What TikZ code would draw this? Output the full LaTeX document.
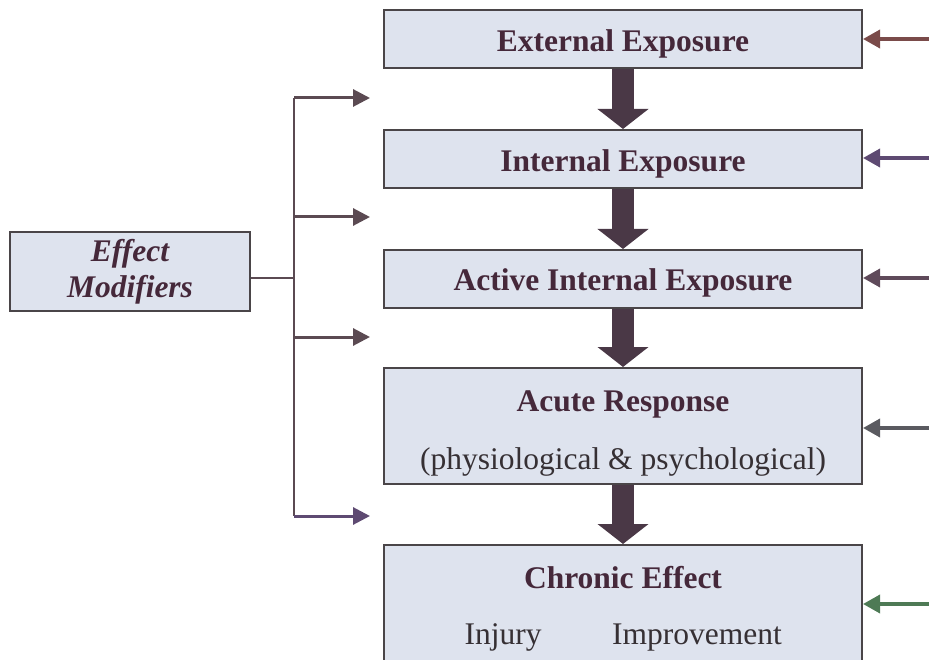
\documentclass[tikz,border=0pt]{standalone}
\usepackage{fontspec}
\setmainfont{Liberation Serif}
\usetikzlibrary{arrows.meta}
\definecolor{boxfill}{HTML}{DEE3EE}
\definecolor{boxdraw}{HTML}{4A4548}
\definecolor{txt}{HTML}{45283A}
\definecolor{txtreg}{HTML}{363034}
\definecolor{thick}{HTML}{4A3846}
\definecolor{lft}{HTML}{5B4A52}
\definecolor{ra}{HTML}{7A4B4A}
\definecolor{rb}{HTML}{5E4A72}
\definecolor{rc}{HTML}{5F4A5A}
\definecolor{rd}{HTML}{5A5A60}
\definecolor{re}{HTML}{4E7A55}
\begin{document}
\begin{tikzpicture}[x=1pt,y=-1pt,
  box/.style={draw=boxdraw,fill=boxfill,line width=2pt,minimum width=478pt,inner sep=0pt},
  lbl/.style={text=txt,font=\fontsize{31.5}{36}\selectfont\bfseries,inner sep=0pt,anchor=base},
  reg/.style={text=txtreg,font=\fontsize{31.5}{36}\selectfont,inner sep=0pt,anchor=base},
  bigarrow/.style={draw=thick,line width=22pt,-{Triangle[width=50pt,length=20pt]}},
  larrow/.style={draw=lft,line width=3pt,-{Triangle[width=17pt,length=17pt]}},
  rarrow/.style={line width=3.5pt,-{Triangle[width=18pt,length=17pt]}}]
\useasboundingbox (0,0) rectangle (929,660);
\clip (0,0) rectangle (929,660);
% main boxes
\node[box,minimum height=58pt] (ext) at (623,39) {};
\node[box,minimum height=58pt] (int) at (623,159) {};
\node[box,minimum height=58pt] (act) at (623,279) {};
\node[box,minimum height=116pt] (acute) at (623,426) {};
\node[box,minimum height=150pt] (chronic) at (623,620) {};
% labels
\node[lbl] (t1) at (623,52) {External Exposure};
\node[lbl] (t2) at (623,172) {Internal Exposure};
\node[lbl] (t3) at (623,291) {Active Internal Exposure};
\node[lbl] (t4) at (623,411) {Acute Response};
\node[reg] (t5) at (623,469) {(physiological \& psychological)};
\node[lbl] (t6) at (623,588) {Chronic Effect};
\node[reg] (t7) at (503,644) {Injury};
\node[reg] (t8) at (697,644) {Improvement};
% effect modifiers
\node[draw=boxdraw,fill=boxfill,line width=2pt,minimum width=240pt,minimum height=79pt,inner sep=0pt,
      text=txt,font=\fontsize{31.5}{36}\selectfont\bfseries\itshape,align=center] (em) at (130,271.5) {Effect\\Modifiers};
% thick vertical arrows
\draw[bigarrow] (ext.south) -- (int.north);
\draw[bigarrow] (int.south) -- (act.north);
\draw[bigarrow] (act.south) -- (acute.north);
\draw[bigarrow] (acute.south) -- (chronic.north);
% left bus
\coordinate (j) at (294,278);
\coordinate (b1) at (294,98);
\coordinate (b2) at (294,217);
\coordinate (b3) at (294,337);
\coordinate (b4) at (294,516);
\coordinate (e1) at (370,98);
\coordinate (e2) at (370,217);
\coordinate (e3) at (370,337);
\coordinate (e4) at (370,516);
\draw[draw=lft,line width=2.5pt] (em.east |- j) -- (j);
\draw[draw=lft,line width=2.5pt] (b1) -- (b4);
\draw[larrow] (b1) -- (e1);
\draw[larrow] (b2) -- (e2);
\draw[larrow] (b3) -- (e3);
\draw[larrow,draw=rb] (b4) -- (e4);
% right arrows
\coordinate (r1) at (935,39);
\coordinate (r2) at (935,158);
\coordinate (r3) at (935,278);
\coordinate (r4) at (935,428);
\coordinate (r5) at (935,604);
\draw[rarrow,draw=ra] (r1) -- (r1 -| ext.east);
\draw[rarrow,draw=rb] (r2) -- (r2 -| int.east);
\draw[rarrow,draw=rc] (r3) -- (r3 -| act.east);
\draw[rarrow,draw=rd] (r4) -- (r4 -| acute.east);
\draw[rarrow,draw=re] (r5) -- (r5 -| chronic.east);
\end{tikzpicture}
\end{document}
